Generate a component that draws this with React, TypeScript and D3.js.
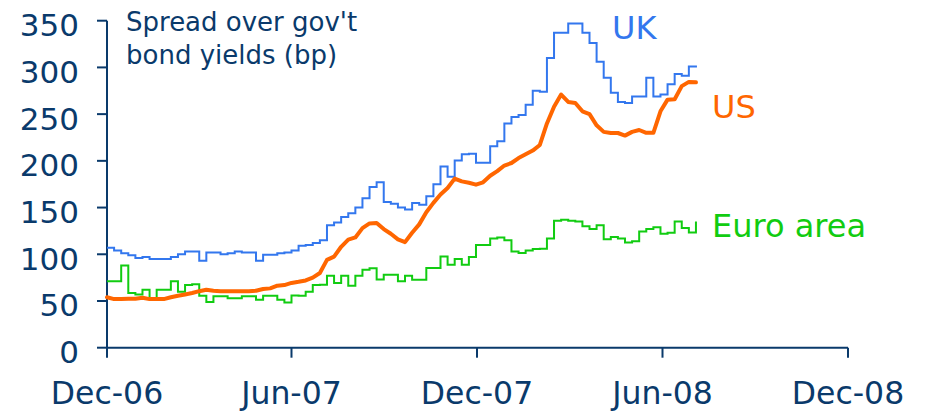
import React from 'react';
import * as d3 from 'd3';

// Weekly observations starting 1 Dec 2006 (basis points)
const START_DATE = new Date(2006, 11, 1);
const WEEK_DAYS = 7;

const ukValues = [
  107, 104, 101, 99, 96, 97, 95, 95, 95, 97,
  100, 103, 103, 93, 102, 102, 100, 101, 103, 102,
  102, 93, 99.5, 99.5, 101, 102, 104, 109, 110, 112,
  115, 131, 134, 140, 144, 150, 160, 172, 177, 156,
  154, 150, 148, 155, 153, 162, 175, 194, 183, 200.5,
  207, 207.6, 198, 198, 215.5, 221, 240, 247, 249, 260,
  275, 274, 310, 337, 337, 347, 347, 337, 326, 306,
  289, 273, 263, 262, 269, 269, 289, 269, 271, 282,
  293, 291, 301, 302,
];

const usValues = [
  54, 52, 52, 52.5, 52.5, 53.5, 52, 52, 52, 54,
  55.6, 57, 58.5, 60.5, 62, 61, 60.5, 60.5, 60.5, 60.5,
  60.5, 61, 62.8, 63.5, 66.4, 67, 69.3, 70.5, 72, 75,
  80, 94, 97.5, 108, 115.6, 118, 128, 133, 133.5, 127,
  122, 116, 113, 123, 132, 145, 155, 164, 171, 181,
  178, 176.5, 174.5, 177, 184, 189, 195, 197.7, 203, 207,
  211, 217, 240, 258, 271, 263, 262, 253, 250, 238,
  231, 229.8, 229.8, 227, 231, 233, 230, 230, 253, 265.5,
  266, 280, 284.5, 284,
];

const euroValues = [
  71, 71, 88, 58.5, 57, 62, 53, 62, 62, 71,
  60, 67, 68, 55.6, 49, 55, 55, 53, 53, 55,
  55, 51.4, 55.6, 55.6, 51.4, 48.5, 56, 55.6, 60, 67,
  67.4, 77, 69.3, 77, 66.4, 77, 83.5, 85, 73, 78,
  78, 71, 77, 72.8, 72.8, 85.3, 85.3, 97.7, 88.8, 95,
  88.8, 97, 110, 110, 117, 118, 115, 103, 101.4, 104,
  105.6, 106, 117, 136, 137, 136, 135, 130, 127, 131,
  116, 118.5, 117, 112.7, 114, 124.5, 127, 129, 122, 123,
  135, 128, 123.4, 135,
];

const yTicks = [0, 50, 100, 150, 200, 250, 300, 350];
const xTickDates = [
  new Date(2006, 11, 1),
  new Date(2007, 5, 1),
  new Date(2007, 11, 1),
  new Date(2008, 5, 1),
  new Date(2008, 11, 1),
];
const titleLines = ["Spread over gov't", 'bond yields (bp)'];
const seriesNames = ['UK', 'US', 'Euro area'];

const NAVY = '#0a3a6b';
const UK_COLOR = '#3377ee';
const US_COLOR = '#ff6600';
const EURO_COLOR = '#11cc11';
const FONT = "'DejaVu Sans', Verdana, sans-serif";

export default function App() {
  const W = 926;
  const H = 412;
  const x = d3
    .scaleTime()
    .domain([xTickDates[0], xTickDates[xTickDates.length - 1]])
    .range([107, 848]);
  const y = d3.scaleLinear().domain([0, 350]).range([347.7, 20.7]);

  const dates = ukValues.map((_, i) => d3.timeDay.offset(START_DATE, WEEK_DAYS * i));

  const stepLine = d3
    .line<number>()
    .x((_, i) => x(dates[i]))
    .y((d) => y(d))
    .curve(d3.curveStepAfter);
  const smoothLine = d3
    .line<number>()
    .x((_, i) => x(dates[i]))
    .y((d) => y(d))
    .curve(d3.curveLinear);

  const fmt = d3.timeFormat('%b-%y');
  const x0 = x.range()[0];
  const x1 = x.range()[1];
  const y0 = y(0);

  return (
    <svg
      width={W}
      height={H}
      viewBox={`0 0 ${W} ${H}`}
      style={{ position: 'absolute', left: 0, top: 0, background: '#fff' }}
    >
      {/* Y axis */}
      <line x1={x0} x2={x0} y1={y(350)} y2={y0} stroke={NAVY} strokeWidth={2} />
      {yTicks.map((t) => (
        <g key={t}>
          <line x1={x0 - 10} x2={x0} y1={y(t)} y2={y(t)} stroke={NAVY} strokeWidth={2} />
          <text
            x={79}
            y={y(t) + 15.5}
            textAnchor="end"
            fontFamily={FONT}
            fontSize={31}
            fill={NAVY}
          >
            {t}
          </text>
        </g>
      ))}
      {/* X axis */}
      <line x1={x0} x2={x1} y1={y0} y2={y0} stroke={NAVY} strokeWidth={2} />
      {xTickDates.map((d, i) => (
        <g key={i}>
          <line x1={x(d)} x2={x(d)} y1={y0} y2={y0 + 10} stroke={NAVY} strokeWidth={2} />
          <text
            x={x(d)}
            y={404}
            textAnchor="middle"
            fontFamily={FONT}
            fontSize={31.5}
            fill={NAVY}
          >
            {fmt(d)}
          </text>
        </g>
      ))}
      {/* Title */}
      {titleLines.map((s, i) => (
        <text key={i} x={126} y={31 + i * 33} fontFamily={FONT} fontSize={26} fill={NAVY}>
          {s}
        </text>
      ))}
      {/* Series */}
      <path d={stepLine(euroValues) || ''} fill="none" stroke={EURO_COLOR} strokeWidth={2} />
      <path d={stepLine(ukValues) || ''} fill="none" stroke={UK_COLOR} strokeWidth={2} />
      <path
        d={smoothLine(usValues) || ''}
        fill="none"
        stroke={US_COLOR}
        strokeWidth={4}
        strokeLinejoin="round"
        strokeLinecap="round"
      />
      {/* Series labels */}
      <text x={612} y={39} fontFamily={FONT} fontSize={32} fill={UK_COLOR}>
        {seriesNames[0]}
      </text>
      <text x={712} y={118} fontFamily={FONT} fontSize={32} fill={US_COLOR}>
        {seriesNames[1]}
      </text>
      <text x={712} y={237} fontFamily={FONT} fontSize={32} fill={EURO_COLOR}>
        {seriesNames[2]}
      </text>
    </svg>
  );
}
